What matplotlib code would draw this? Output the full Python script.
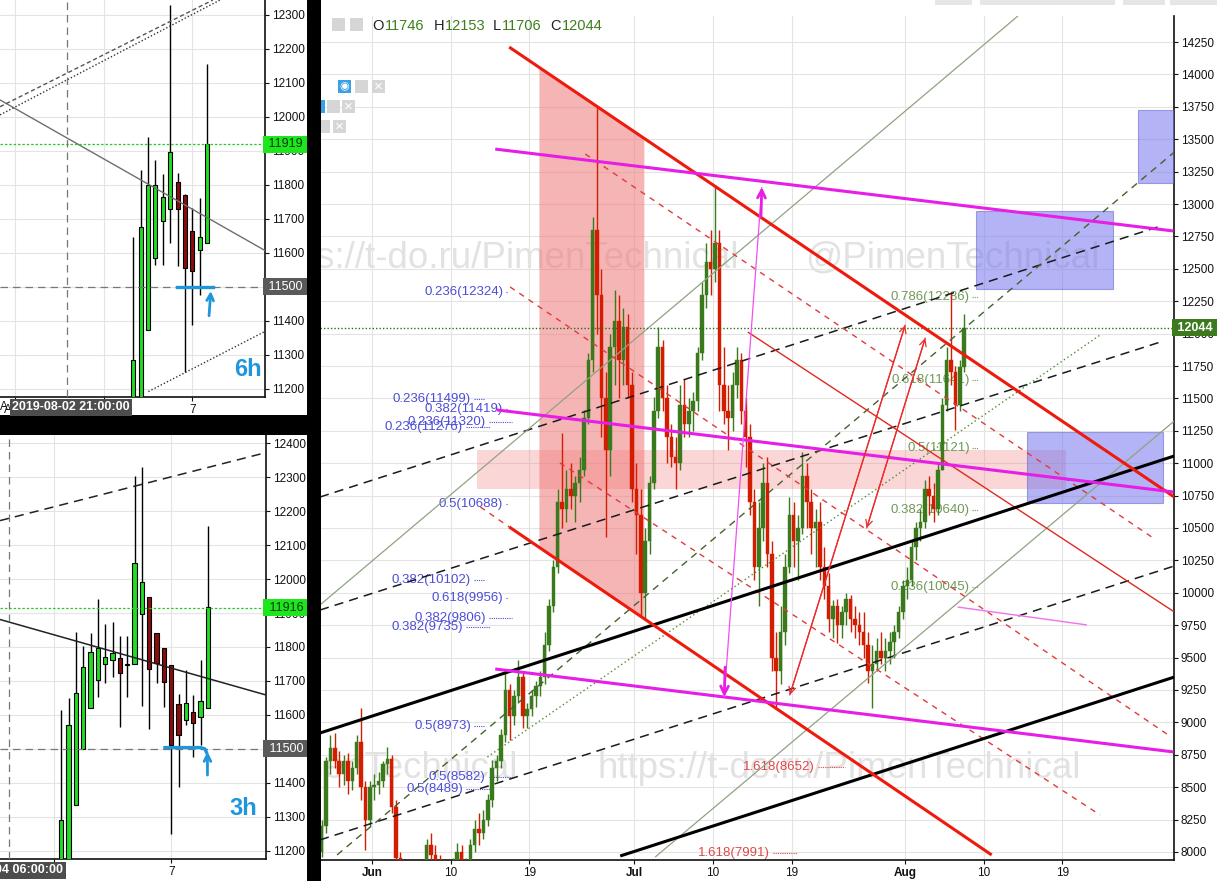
import numpy as np
import matplotlib.pyplot as plt
import matplotlib.transforms as mtransforms
from matplotlib.patches import Rectangle

plt.rcParams['font.family'] = ['Liberation Sans', 'DejaVu Sans']

W, H = 1217, 881

# ---------------- main chart: 12h candles, x = days from 2019-06-01 ----------------
main_first_day = -6.0
main_first_open = 8000
main_high = [8250, 8730, 8900, 8920, 8780, 8750, 8760, 8700, 8900, 9110, 8550, 8550,
             8600, 8620, 8700, 8810, 8750, 8400, 8000, 7750, 7850, 7900, 7800, 7850,
             8100, 8150, 8050, 7980, 7900, 7750, 7950, 8070, 8050, 7950, 8100, 8250,
             8300, 8320, 8450, 8710, 8750, 8950, 9404, 9300, 9250, 9480, 9380, 9150,
             9250, 9320, 9400, 9700, 9950, 10250, 10800, 11233, 10950, 11000, 10900, 11050,
             11410, 11850, 12900, 13760, 12500, 11700, 12000, 12336, 12300, 12200, 12150, 11700,
             11000, 10800, 10500, 10900, 11510, 12050, 11950, 11600, 11300, 11200, 11600, 11650,
             11500, 11550, 11900, 12400, 12700, 12800, 13147, 12800, 11900, 11600, 11700, 11900,
             11850, 11500, 11300, 10800, 10700, 11000, 11050, 10400, 9700, 9900, 10300, 10740,
             10700, 10600, 11086, 11000, 10800, 10650, 10700, 10350, 10150, 9945, 9950, 9900,
             10000, 9980, 9900, 9850, 9850, 9700, 9600, 9650, 9700, 9650, 9700, 9750,
             9900, 10100, 10200, 10400, 10550, 10650, 10870, 10900, 10850, 11000, 11500, 11900,
             12321, 11750, 11800, 12153]
main_low = [7960, 8150, 8600, 8650, 8500, 8520, 8450, 8480, 8600, 8400, 8015, 8200,
            8400, 8450, 8500, 8600, 8300, 7900, 7550, 7450, 7600, 7650, 7500, 7580,
            7750, 7900, 7850, 7780, 7550, 7500, 7650, 7850, 7800, 7750, 7850, 8000,
            8050, 8100, 8200, 8350, 8550, 8650, 8850, 8864, 8980, 9150, 8957, 8960,
            9050, 9120, 9200, 9300, 9550, 9850, 10150, 10500, 10550, 10650, 10550, 10700,
            10900, 11300, 11700, 12000, 11200, 10430, 10900, 11600, 11500, 11600, 11500, 10700,
            10300, 9829, 9800, 10300, 10800, 11350, 11400, 11000, 10970, 10800, 10950, 11200,
            11200, 11250, 11400, 11800, 12200, 12300, 12400, 11400, 11300, 11100, 11250, 11500,
            11300, 10970, 10600, 10100, 9900, 10400, 10200, 9400, 9120, 9300, 9600, 10150,
            10200, 10100, 10450, 10500, 10300, 10200, 10100, 9950, 9700, 9650, 9610, 9650,
            9750, 9700, 9650, 9600, 9500, 9304, 9111, 9400, 9450, 9400, 9450, 9500,
            9650, 9800, 9950, 10050, 10250, 10400, 10500, 10600, 10550, 10600, 10950, 11400,
            11600, 11256, 11400, 11706]
main_close = [8200, 8700, 8800, 8700, 8600, 8700, 8550, 8650, 8850, 8500, 8250, 8500,
              8520, 8550, 8680, 8720, 8350, 7950, 7650, 7680, 7800, 7750, 7650, 7800,
              8050, 7980, 7900, 7850, 7620, 7700, 7900, 8000, 7880, 7900, 8050, 8180,
              8150, 8250, 8400, 8650, 8700, 8900, 9250, 9050, 9200, 9350, 9050, 9100,
              9200, 9280, 9350, 9600, 9900, 10200, 10700, 10650, 10800, 10750, 10850, 10950,
              11350, 11800, 12800, 12300, 11500, 11100, 11900, 12100, 11800, 12050, 11600, 10800,
              10600, 10000, 10400, 10850, 11400, 11900, 11500, 11200, 11050, 11000, 11450, 11300,
              11400, 11480, 11850, 12300, 12550, 12500, 12700, 11600, 11400, 11350, 11600, 11800,
              11400, 11200, 10700, 10200, 10500, 10850, 10300, 9500, 9400, 9700, 10200, 10600,
              10400, 10500, 10900, 10700, 10500, 10550, 10200, 10050, 9800, 9900, 9750, 9850,
              9950, 9800, 9750, 9700, 9600, 9400, 9450, 9550, 9500, 9550, 9620, 9700,
              9850, 10050, 10100, 10350, 10500, 10550, 10800, 10750, 10650, 10950, 11450, 11800,
              11700, 11450, 11746, 12044]

main_ticks = [0, 9, 18, 30, 39, 48, 61, 70, 79]
main_ticklabels = ['Jun', '10', '19', 'Jul', '10', '19', 'Aug', '10', '19']
main_prices = list(range(8000, 14251, 250))
last_price = 12044

# hand drawn lines, (day, price) end points
red_upper = [(15.7, 14211), (91.8, 10739)]
red_lower = [(15.7, 10508), (70.9, 7977)]
red_lower_ext = [(12.4, 10662), (15.7, 10508)]
red_thin = [(43.0, 12012), (91.8, 9852)]
red_dashed = [[(24.4, 13386), (89.2, 10431)],
              [(15.8, 12360), (91.1, 8903)],
              [(21.5, 11002), (83.3, 8286)]]
black_thick = [[(-5.95, 8918), (91.8, 11056)],
               [(28.4, 7969), (91.8, 9350)]]
black_dashed = [[(-5.95, 10739), (89.9, 12823)],
                [(-5.95, 9867), (90.2, 11935)],
                [(-5.95, 8093), (91.8, 10207)]]
green_solid = [[(-5.95, 9906), (73.9, 14451)],
               [(32.4, 7961), (91.8, 11326)]]
green_dashed = [(-4.0, 7977), (91.8, 13401)]
green_dotted = [(13.2, 8733), (83.3, 11989)]
magenta_thick = [[(14.1, 13424), (91.7, 12792)],
                 [(14.3, 11411), (91.7, 10778)],
                 [(14.1, 9412), (91.7, 8772)]]
magenta_thin = [(67.0, 9890), (81.8, 9752)]
magenta_arrow = [(40.3, 9196), (44.6, 13131)]
red_arrows = [[(47.8, 9211), (61.0, 12066)], [(56.6, 10500), (63.3, 11966)]]

pink_days = [19.1, 31.1]
pink_band = [(12.0, 10801), (79.4, 11102)]
blue_boxes = [[(69.1, 12344), (84.8, 12946)],
              [(87.6, 13162), (92.5, 13725)],
              [(74.9, 10693), (90.5, 11241)]]

blue_ratio = ['0.236', '0.236', '0.382', '0.236', '0.236', '0.5', '0.382', '0.618',
              '0.382', '0.382', '0.5', '0.5', '0.5']
blue_level = [12324, 11499, 11419, 11320, 11276, 10688, 10102, 9956, 9806, 9735, 8973, 8582, 8489]
blue_end = [15.0, 11.3, 15.0, 13.0, 10.4, 15.0, 11.3, 15.0, 13.0, 10.4, 11.3, 13.0, 10.4]
blue_tail = [15.6, 12.9, 15.6, 16.0, 13.5, 15.6, 12.9, 15.6, 16.0, 13.5, 12.9, 16.0, 13.5]
green_ratio = ['0.786', '0.618', '0.5', '0.382', '0.236']
green_level = [12286, 11641, 11121, 10640, 10045]
red_ratio = ['1.618', '1.618']
red_level = [8652, 7991]
red_end = [50.7, 45.5]
red_tail = [54.1, 48.6]

# ---------------- 6h panel, x = days from 2019-08-07 ----------------
h6_open = [11100, 11100, 11374, 11584, 11694, 11728, 11810, 11771, 11665, 11609, 11628]
h6_high = [11646, 11844, 11942, 11874, 11832, 12330, 11834, 11774, 11731, 11761, 12156]
h6_low = [11050, 11050, 11374, 11565, 11565, 11628, 11560, 11251, 11388, 11476, 11628]
h6_close = [11285, 11677, 11800, 11800, 11764, 11896, 11728, 11555, 11548, 11648, 11919]

# ---------------- 3h panel ----------------
h3_open = [11100, 11150, 11334, 11499, 11619, 11703, 11749, 11762, 11769, 11748, 11749,
           11896, 11948, 11840, 11796, 11747, 11632, 11585, 11609, 11593, 11619]
h3_high = [11614, 11649, 11845, 11803, 11840, 11941, 11868, 11873, 11832, 11832, 12304,
           12331, 11948, 11840, 11796, 11747, 11662, 11732, 11659, 11762, 12156]
h3_low = [11050, 11100, 11334, 11499, 11619, 11654, 11693, 11713, 11565, 11652, 11749,
          11626, 11560, 11695, 11622, 11251, 11389, 11570, 11477, 11511, 11619]
h3_close = [11290, 11570, 11666, 11740, 11784, 11796, 11772, 11781, 11724, 11746, 12046,
            11992, 11734, 11752, 11696, 11511, 11541, 11636, 11575, 11642, 11917]


def fx(x):
    return x / W


def fy(y):
    return 1 - y / H


def seg(ax, pts, **kw):
    ax.plot([p[0] for p in pts], [p[1] for p in pts], solid_capstyle='butt', **kw)


def line_at(pts, d):
    (d0, p0), (d1, p1) = pts
    return p0 + (np.asarray(d) - d0) * (p1 - p0) / (d1 - d0)


def candles(ax, x, o, h, l, c, width, up, down, edge=None, wick_lw=1.0):
    o, h, l, c = map(np.asarray, (o, h, l, c))
    col = np.where(c >= o, up, down)
    ax.vlines(x, l, h, colors=edge if edge else col, lw=wick_lw, zorder=4)
    body = np.where(np.abs(c - o) < 3, 3, c - o)
    ax.bar(x, body, bottom=o, width=width, color=col,
           edgecolor=edge if edge else col, lw=0.8 if edge else 0.3, zorder=5)


def price_box(ax, y, text, fc, tc, bold=False):
    tr = mtransforms.blended_transform_factory(ax.transAxes, ax.transData)
    ax.text(1.0, y, ' ' + text + ' ', transform=tr, ha='left', va='center', color=tc,
            fontsize=9, fontweight='bold' if bold else 'normal', zorder=20, clip_on=False,
            bbox=dict(boxstyle='square,pad=0.2', fc=fc, ec='none'))


def style_axes(ax):
    ax.set_facecolor('white')
    for s in ('left', 'top'):
        ax.spines[s].set_visible(False)
    for s in ('right', 'bottom'):
        ax.spines[s].set_color('#111111')
        ax.spines[s].set_linewidth(1.2)
    ax.yaxis.tick_right()
    ax.tick_params(axis='both', labelsize=8.5, length=3, colors='#111111', pad=2)
    ax.grid(True, color='#e4e4e4', lw=0.8, zorder=0)
    ax.set_axisbelow(True)


fig = plt.figure(figsize=(W / 100, H / 100), dpi=100)
fig.patch.set_facecolor('white')

# ================= main panel =================
ax = fig.add_axes([fx(320), fy(860), (1174 - 320) / W, (860 - 16) / H])
style_axes(ax)
ax.set_xlim(-5.95, 91.76)
ax.set_ylim(7938, 14451)
ax.set_yticks(main_prices)
ax.set_xticks(main_ticks)
ax.set_xticklabels(main_ticklabels)
for lab in ax.get_xticklabels():
    if lab.get_text() in ('Jun', 'Jul', 'Aug'):
        lab.set_fontweight('bold')

# watermarks
for tx, ty, s in [(-0.076, 0.713, 'https://t-do.ru/PimenTechnical'),
                  (0.568, 0.713, '@PimenTechnical'),
                  (-0.334, 0.109, 'https://t-do.ru/PimenTechnical'),
                  (0.3255, 0.109, 'https://t-do.ru/PimenTechnical')]:
    ax.text(tx, ty, s, transform=ax.transAxes, fontsize=26.5, color='#e2e2e2',
            ha='left', va='center', zorder=1, clip_on=True)

# shaded zones
dd = np.array(pink_days)
ax.fill_between(dd, line_at(red_lower, dd), line_at(red_upper, dd), color='#f07878',
                alpha=0.55, lw=0, zorder=1.5)
(b0, p0), (b1, p1) = pink_band
ax.add_patch(Rectangle((b0, p0), b1 - b0, p1 - p0, fc='#f07878', alpha=0.3, lw=0, zorder=1.6))
for (d0, q0), (d1, q1) in blue_boxes:
    ax.add_patch(Rectangle((d0, q0), d1 - d0, q1 - q0, fc='#7676ee', alpha=0.55,
                           ec='#6060d0', lw=0.8, zorder=6))

# candles
n = len(main_close)
mx = main_first_day + 0.25 + 0.5 * np.arange(n)
mo = [main_first_open] + main_close[:-1]
candles(ax, mx, mo, main_high, main_low, main_close, 0.4, '#3b7a1c', '#d41c00', wick_lw=1.0)

# lines
for pts in black_dashed:
    seg(ax, pts, color='#1a1a1a', lw=1.1, ls=(0, (6, 4)), zorder=7)
seg(ax, green_dashed, color='#42632c', lw=1.0, ls=(0, (5, 4)), zorder=7)
seg(ax, green_dotted, color='#4f8a33', lw=1.0, ls=(0, (1, 2)), zorder=7)
for pts in green_solid:
    seg(ax, pts, color='#8fa382', lw=0.9, zorder=7)
for pts in red_dashed:
    seg(ax, pts, color='#e23a3a', lw=1.0, ls=(0, (4, 4)), zorder=7)
seg(ax, red_lower_ext, color='#e23a3a', lw=1.0, ls=(0, (4, 4)), zorder=7)
seg(ax, red_thin, color='#e02a20', lw=1.0, zorder=7)
for pts in black_thick:
    seg(ax, pts, color='#000000', lw=2.2, zorder=8)
seg(ax, red_upper, color='#ee1a0c', lw=2.2, zorder=8)
seg(ax, red_lower, color='#ee1a0c', lw=2.2, zorder=8)
for pts in magenta_thick:
    seg(ax, pts, color='#e61ee6', lw=2.2, zorder=8)
seg(ax, magenta_thin, color='#f070f0', lw=1.0, zorder=8)
seg(ax, magenta_arrow, color='#f050f0', lw=0.9, zorder=8)
(a0, a1) = magenta_arrow
for tip, tail in [(a0, (a0[0] + 0.1, a0[1] + 230)), (a1, (a1[0] - 0.1, a1[1] - 230))]:
    ax.annotate('', xy=tip, xytext=tail, zorder=9,
                arrowprops=dict(arrowstyle='->', color='#e61ee6', lw=2.0, mutation_scale=14,
                                shrinkA=0, shrinkB=0))
for pts in red_arrows:
    ax.annotate('', xy=pts[1], xytext=pts[0], zorder=9,
                arrowprops=dict(arrowstyle='->', color='#ee2a2a', lw=0.9, mutation_scale=12,
                                shrinkA=0, shrinkB=0))
    ax.annotate('', xy=pts[0], xytext=pts[1], zorder=9,
                arrowprops=dict(arrowstyle='->', color='#ee2a2a', lw=0.9, mutation_scale=12,
                                shrinkA=0, shrinkB=0))

ax.axhline(last_price, color='#2e6b17', lw=1.0, ls=(0, (1, 1.5)), zorder=7)

# fibonacci labels
for r, lv, e, tl in zip(blue_ratio, blue_level, blue_end, blue_tail):
    ax.text(e, lv, f'{r}({lv})', color='#4d4dd6', fontsize=9.5, ha='right', va='center', zorder=3)
    ax.plot([e + 0.35, tl], [lv, lv], color='#4d4dd6', lw=0.8, ls=(0, (1, 1)), zorder=3)
for r, lv in zip(green_ratio, green_level):
    ax.text(68.4, lv, f'{r}({lv})', color='#6f9a56', fontsize=9.5, ha='right', va='center', zorder=3)
    ax.plot([68.7, 69.3], [lv, lv], color='#6f9a56', lw=0.8, ls=(0, (1, 1)), zorder=3)
for r, lv, e, tl in zip(red_ratio, red_level, red_end, red_tail):
    ax.text(e, lv, f'{r}({lv})', color='#e04848', fontsize=9.5, ha='right', va='center', zorder=3)
    ax.plot([e + 0.35, tl], [lv, lv], color='#e04848', lw=0.8, ls=(0, (1, 1)), zorder=3)

price_box(ax, last_price, str(last_price), '#3d7a1e', 'white', bold=True)

# ================= 6h panel =================
a6 = fig.add_axes([0, fy(397), 265 / W, 397 / H])
style_axes(a6)
a6.set_xlim(-6.5, 2.45)
a6.set_ylim(11176, 12344)
a6.set_yticks(range(11200, 12301, 100))
a6.set_xticks([-6, -3, 0])
a6.set_xticklabels(['Aug', '4', '7'])
x6 = -2.0 + 0.25 * np.arange(len(h6_close))
candles(a6, x6, h6_open, h6_high, h6_low, h6_close, 0.135, '#22dd22', '#8c0c0c', edge='#000000')
a6.plot([-6.5, 2.45], [12050, 11607], color='#6e6e6e', lw=1.0, zorder=6)
a6.plot([-6.5, 0.93], [12006, 12344], color='#333333', lw=1.0, ls=(0, (1, 1.5)), zorder=6)
a6.plot([-6.5, 0.69], [12030, 12344], color='#555555', lw=1.0, ls=(0, (3, 2)), zorder=6)
a6.plot([-1.49, 2.45], [11192, 11369], color='#333333', lw=1.0, ls=(0, (1, 1.5)), zorder=6)
a6.axhline(11919, color='#22cc22', lw=0.9, ls=(0, (2, 1.5)), zorder=6)
a6.axhline(11500, color='#777777', lw=0.9, ls=(0, (6, 4)), zorder=6)
a6.axvline(-4.24, color='#777777', lw=0.9, ls=(0, (6, 4)), zorder=6)
a6.plot([-0.52, 0.69], [11500, 11500], color='#1e96dc', lw=2.4, zorder=9)
a6.annotate('', xy=(0.62, 11488), xytext=(0.56, 11415), zorder=9,
            arrowprops=dict(arrowstyle='->', color='#1e96dc', lw=2.0, mutation_scale=12,
                            shrinkA=0, shrinkB=0))
a6.text(1.87, 11256, '6h', color='#1e96dc', fontsize=17, fontweight='bold',
        ha='center', va='center', zorder=9)
price_box(a6, 11919, '11919', '#1de61d', '#0a3a0a')
price_box(a6, 11500, '11500', '#5a5a5a', 'white')

# ================= 3h panel =================
a3 = fig.add_axes([0, fy(859), 265.7 / W, (859 - 435) / H])
style_axes(a3)
a3.set_xlim(-2.92, 1.61)
a3.set_ylim(11176, 12424)
a3.set_yticks(range(11200, 12401, 100))
a3.set_xticks([-2, 0])
a3.set_xticklabels(['5', '7'])
x3 = -1.875 + 0.125 * np.arange(len(h3_close))
candles(a3, x3, h3_open, h3_high, h3_low, h3_close, 0.073, '#22dd22', '#8c0c0c', edge='#000000')
a3.plot([-2.92, 1.61], [12172, 12372], color='#222222', lw=1.1, ls=(0, (6, 4)), zorder=6)
a3.plot([-2.92, 1.61], [11881, 11659], color='#222222', lw=1.1, zorder=6)
a3.axhline(11916, color='#22cc22', lw=0.9, ls=(0, (2, 1.5)), zorder=6)
a3.axhline(11500, color='#777777', lw=0.9, ls=(0, (6, 4)), zorder=6)
a3.axvline(-2.77, color='#777777', lw=0.9, ls=(0, (6, 4)), zorder=6)
a3.plot([-0.107, 0.50, 0.574, 0.60], [11504, 11504, 11500, 11490], color='#1e96dc', lw=2.4,
        zorder=9)
a3.annotate('', xy=(0.617, 11492), xytext=(0.617, 11423), zorder=9,
            arrowprops=dict(arrowstyle='->', color='#1e96dc', lw=2.0, mutation_scale=12,
                            shrinkA=0, shrinkB=0))
a3.text(1.22, 11326, '3h', color='#1e96dc', fontsize=17, fontweight='bold',
        ha='center', va='center', zorder=9)
price_box(a3, 11916, '11916', '#1de61d', '#0a3a0a')
price_box(a3, 11500, '11500', '#5a5a5a', 'white')

# ================= frame decorations =================
def fig_rect(x, y, w, h, color, z=30):
    fig.add_artist(Rectangle((fx(x), fy(y + h)), w / W, h / H, transform=fig.transFigure,
                             fc=color, ec='none', zorder=z))


fig_rect(307, 0, 14, H, '#000000')
fig_rect(0, 415, 307, 20, '#000000')
for x, w in [(935, 37), (980, 135), (1123, 42), (1170, 47)]:
    fig_rect(x, 0, w, 5, '#e6e6e6')

fig.text(fx(12), fy(407.5), '2019-08-02 21:00:00', ha='left', va='center', color='white',
         fontsize=9, fontweight='bold', zorder=31,
         bbox=dict(boxstyle='square,pad=0.2', fc='#4d4d4d', ec='none'))
fig.text(fx(4), fy(407.5), 'A', ha='center', va='center', color='#111111', fontsize=8.5,
         zorder=31)
fig.text(fx(63), fy(870), '2019-08-04 06:00:00', ha='right', va='center', color='white',
         fontsize=9, fontweight='bold', zorder=31,
         bbox=dict(boxstyle='square,pad=0.2', fc='#4d4d4d', ec='none'))

# toolbar squares
for x, y, w, c in [(332, 18, 13, '#d6d6d6'), (350, 18, 13, '#d6d6d6'),
                   (338, 80, 13, '#3aa0e6'), (355, 80, 13, '#d6d6d6'), (372, 80, 13, '#d6d6d6'),
                   (321, 100, 4, '#3aa0e6'), (327, 100, 13, '#d6d6d6'), (342, 100, 13, '#d6d6d6'),
                   (321, 120, 9, '#d6d6d6'), (333, 120, 13, '#d6d6d6')]:
    fig_rect(x, y, w, 13, c, z=25)
for x, y in [(378.5, 86.5), (348.5, 106.5), (339.5, 126.5)]:
    fig.text(fx(x), fy(y), '×', color='white', fontsize=11, ha='center', va='center', zorder=26)
fig.text(fx(344.5), fy(86.5), '◉', color='white', fontsize=8, ha='center', va='center', zorder=26)

# OHLC header
hx = [(372, 'O', '#222222'), (385, '11746', '#3d7f1e'), (434, 'H', '#222222'),
      (445, '12153', '#3d7f1e'), (493, 'L', '#222222'), (502, '11706', '#3d7f1e'),
      (550, 'C', '#222222'), (562, '12044', '#3d7f1e')]
for x, s, c in hx:
    fig.text(fx(x), fy(26), s, color=c, fontsize=10.5, ha='left', va='center', zorder=26)

fig.savefig('out.png', dpi=100, facecolor='white')
